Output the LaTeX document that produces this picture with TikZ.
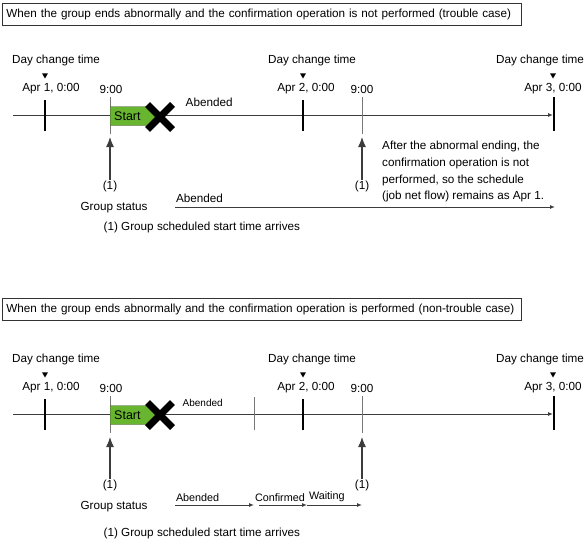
\documentclass[tikz,border=0pt]{standalone}
\usepackage{fontspec}
\setmainfont{Liberation Sans}
\usepackage{tikz}
\usetikzlibrary{arrows.meta, positioning, shapes.geometric, shapes.symbols, shapes.misc}
\usepackage{xcolor}

\definecolor{startgreen}{RGB}{104,182,48}
\definecolor{linegray}{RGB}{60,60,60}
\definecolor{tickgray}{RGB}{120,120,120}

\begin{document}
\begin{tikzpicture}[
    x=1pt, y=-1pt,
    font=\fontsize{11.7}{14}\selectfont,
    casebox/.style={rectangle, draw=black!80, line width=0.8pt, anchor=north west, minimum height=22pt, text width=511pt, inner xsep=4pt, inner ysep=0pt, align=left},
    txt/.style={inner sep=0.5pt},
    smalltxt/.style={inner sep=0.5pt, font=\fontsize{10.8}{13}\selectfont},
    notetxt/.style={inner sep=0pt, anchor=north west, align=left, font=\fontsize{11.7}{16.7}\selectfont},
    daymark/.style={regular polygon, regular polygon sides=3, shape border rotate=180, fill=black, inner sep=0pt, minimum size=7pt},
    daytick/.style={line width=2.5pt},
    hourtick/.style={draw=tickgray, line width=0.8pt},
    timeline/.style={draw=linegray, line width=1pt, -{Latex[length=5pt, width=4pt]}},
    startbox/.style={signal, signal to=east, signal pointer angle=100, draw=black!70, fill=startgreen, minimum height=19pt, inner xsep=4pt, inner ysep=0pt, text width=34pt, align=left, anchor=west, font=\fontsize{12.5}{14}\selectfont},
    crossmark/.style={cross out, draw=black, line width=7pt, minimum width=18pt, minimum height=18pt, inner sep=0pt},
    uparrow/.style={draw=linegray, line width=1.2pt, -{Latex[length=10pt, width=8pt]}},
    status/.style={draw=linegray, line width=1pt, -{Latex[length=5pt, width=4pt]}}
]
    \useasboundingbox (0,0) rectangle (586,543);

    % ---------------- Trouble case ----------------
    \node[casebox] (caseA) at (2,3) {When the group ends abnormally and the confirmation operation is not performed (trouble case)};

    % Day change markers
    \node[txt] (dayA1) at (56,60) {Day change time};
    \node[txt] (dayA2) at (312,60) {Day change time};
    \node[txt] (dayA3) at (540,60) {Day change time};
    \node[daymark] (dmA1) at (45,75) {};
    \node[daymark] (dmA2) at (303,75) {};
    \node[daymark] (dmA3) at (553,75) {};
    \node[txt] (aprA1) at (51,89) {Apr 1, 0:00};
    \node[txt] (hourA1) at (111,89) {9:00};
    \node[txt] (aprA2) at (306,89) {Apr 2, 0:00};
    \node[txt] (hourA2) at (362,89) {9:00};
    \node[txt] (aprA3) at (553,89) {Apr 3, 0:00};

    % Time line
    \coordinate (tlA0) at (13,115);
    \coordinate (tlA1) at (553,115);
    \draw[timeline] (tlA0) -- (tlA1);
    \draw[daytick] (45,100) -- (45,131);
    \draw[daytick] (303,100) -- (303,131);
    \draw[daytick] (554,97) -- (554,131);
    \draw[hourtick] (110,97) -- (110,134);
    \draw[hourtick] (362,97) -- (362,134);

    % Abnormal end
    \node[startbox] (startA) at (110,116) {Start};
    \node[crossmark] (crossA) at (160,117) {};
    \node[txt, anchor=west] (endA) at (185,102) {Abended};

    % Scheduled start time
    \node[txt] (oneA1) at (110,186) {(1)};
    \node[txt] (oneA2) at (362,186) {(1)};
    \coordinate (hitA1) at (110,137);
    \coordinate (hitA2) at (362,137);
    \draw[uparrow] (oneA1) -- (hitA1);
    \draw[uparrow] (oneA2) -- (hitA2);
    \node[notetxt] (noteA) at (382,141) {After the abnormal ending, the\\confirmation operation is not\\performed, so the schedule\\(job net flow) remains as Apr 1.};

    % Group status
    \node[txt] (groupA) at (114,208) {Group status};
    \coordinate (stA0) at (175,207);
    \coordinate (stA1) at (555,207);
    \draw[status] (stA0) -- node[txt, pos=0, anchor=south west, yshift=3pt] {Abended} (stA1);
    \node[txt, anchor=west] (footA) at (103,227) {(1) Group scheduled start time arrives};

    % ---------------- Non-trouble case ----------------
    \node[casebox] (caseB) at (2,298) {When the group ends abnormally and the confirmation operation is performed (non-trouble case)};

    % Day change markers
    \node[txt] (dayB1) at (56,359) {Day change time};
    \node[txt] (dayB2) at (312,359) {Day change time};
    \node[txt] (dayB3) at (540,359) {Day change time};
    \node[daymark] (dmB1) at (45,374) {};
    \node[daymark] (dmB2) at (303,374) {};
    \node[daymark] (dmB3) at (553,374) {};
    \node[txt] (aprB1) at (51,388) {Apr 1, 0:00};
    \node[txt] (hourB1) at (111,388) {9:00};
    \node[txt] (aprB2) at (306,388) {Apr 2, 0:00};
    \node[txt] (hourB2) at (362,388) {9:00};
    \node[txt] (aprB3) at (553,388) {Apr 3, 0:00};

    % Time line
    \coordinate (tlB0) at (13,414);
    \coordinate (tlB1) at (553,414);
    \draw[timeline] (tlB0) -- (tlB1);
    \draw[daytick] (45,399) -- (45,430);
    \draw[daytick] (303,399) -- (303,430);
    \draw[daytick] (554,396) -- (554,430);
    \draw[hourtick] (110,396) -- (110,433);
    \draw[hourtick] (254,397) -- (254,430);
    \draw[hourtick] (362,396) -- (362,433);

    % Abnormal end
    \node[startbox] (startB) at (110,415) {Start};
    \node[crossmark] (crossB) at (160,415) {};
    \node[txt, anchor=west, font=\fontsize{10}{12}\selectfont] (endB) at (182,403) {Abended};

    % Scheduled start time
    \node[txt] (oneB1) at (110,485) {(1)};
    \node[txt] (oneB2) at (362,485) {(1)};
    \coordinate (hitB1) at (110,437);
    \coordinate (hitB2) at (362,437);
    \draw[uparrow] (oneB1) -- (hitB1);
    \draw[uparrow] (oneB2) -- (hitB2);

    % Group status
    \node[txt] (groupB) at (114,507) {Group status};
    \coordinate (stB0) at (175,505);
    \coordinate (stB1) at (254,505);
    \coordinate (stB2) at (259,505);
    \coordinate (stB3) at (307,505);
    \coordinate (stB4) at (362,505);
    \draw[status] (stB0) -- node[smalltxt, pos=0, anchor=south west, yshift=2pt] {Abended} (stB1);
    \draw[status] (stB2) -- node[smalltxt, pos=0, anchor=south west, xshift=-5pt, yshift=2pt] {Confirmed} (stB3);
    \draw[status] (stB3) -- node[smalltxt, pos=0, anchor=south west, xshift=1pt, yshift=2pt] {Waiting} (stB4);
    \node[txt, anchor=west] (footB) at (103,533) {(1) Group scheduled start time arrives};
\end{tikzpicture}
\end{document}
